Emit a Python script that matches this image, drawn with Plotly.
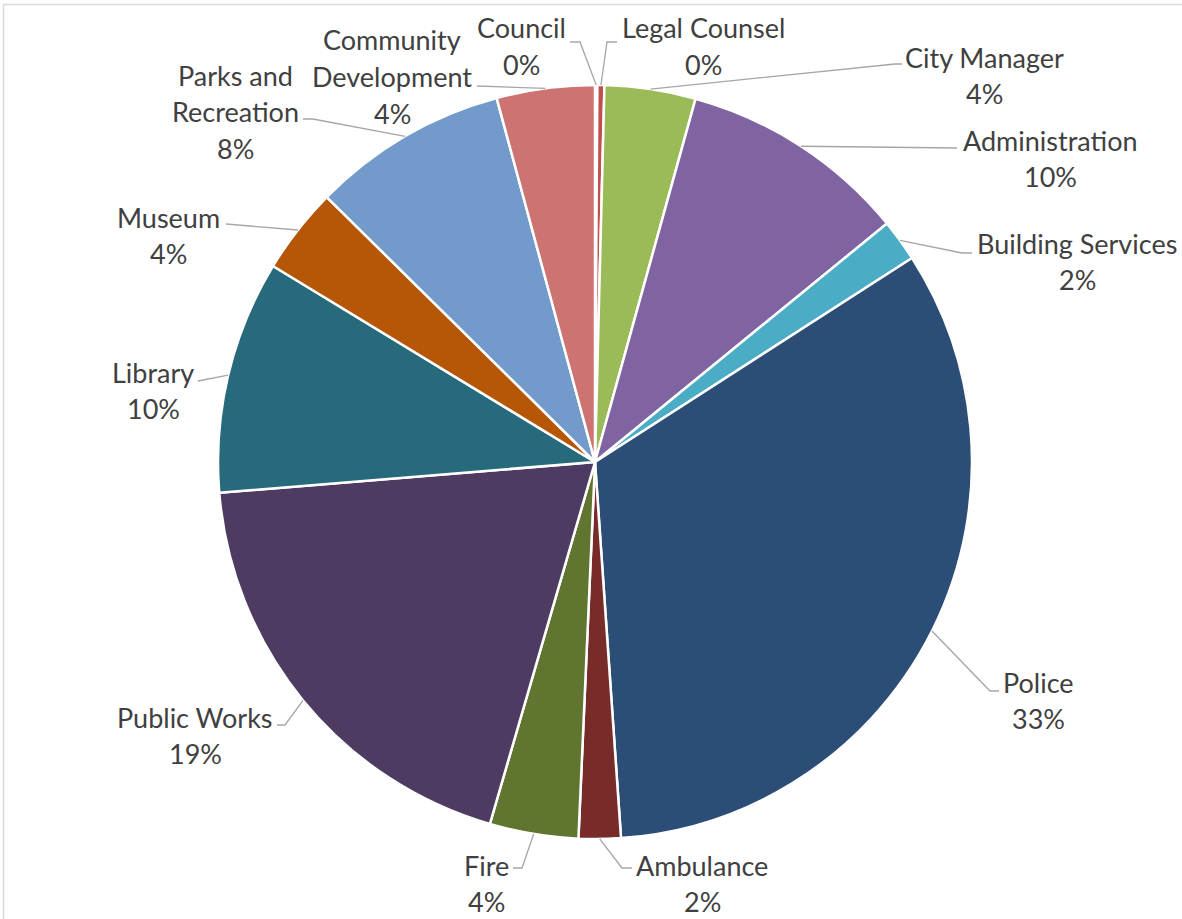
import math
import plotly.graph_objects as go

# ---- data ----
departments = ["Council", "Legal Counsel", "City Manager", "Administration",
               "Building Services", "Police", "Ambulance", "Fire", "Public Works",
               "Library", "Museum", "Parks and Recreation", "Community Development"]
shares = [0.1, 0.3, 3.9, 9.8, 1.8, 33.0, 1.8, 3.8, 19.2, 10.0, 3.7, 8.4, 4.2]
label_lines = [["Council"], ["Legal Counsel"], ["City Manager"], ["Administration"],
               ["Building Services"], ["Police"], ["Ambulance"], ["Fire"], ["Public Works"],
               ["Library"], ["Museum"], ["Parks and", "Recreation"], ["Community", "Development"]]
colors = ["#4F81BD", "#C0504D", "#9BBB59", "#8064A2", "#4BACC6", "#2C4D75", "#772C2A",
          "#5F7530", "#4D3B62", "#276A7C", "#B65708", "#729ACA", "#CD7371"]

# ---- layout (pixels) ----
W, H = 1182, 919
CX, CY, R = 595, 462, 377
LINE_GAP = 36.5
# label block: centre x, first line y
label_pos = [(521, 28), (703, 28), (984, 57), (1050, 140), (1077, 243), (1038, 682),
             (702, 865), (486, 865), (195, 717), (153, 372), (168, 217), (235, 75), (392, 40)]
# leader line: elbow point, end point
leaders = [((580, 42), (570, 42)), ((607, 42), (617, 42)), ((895, 64), (902, 64)),
           ((957, 148), (957, 148)), ((962, 253), (972, 253)), ((990, 691), (999, 691)),
           ((622, 868), (632, 868)), ((522, 868), (513, 868)), ((285, 725), (277, 725)),
           ((198, 381), (198, 381)), ((226, 224), (226, 224)), ((313, 119), (303, 119)),
           ((477, 86), (477, 86))]


def px(x):
    return x / W


def py(y):
    return 1 - y / H


fig = go.Figure(go.Pie(
    labels=departments, values=shares, sort=False, direction="clockwise", rotation=0,
    marker=dict(colors=colors, line=dict(color="white", width=2.5)),
    textinfo="none", hoverinfo="label+percent", showlegend=False,
    domain=dict(x=[px(CX - R), px(CX + R)], y=[py(CY + R), py(CY - R)]),
))

total = sum(shares)
annotations = []
shapes = []
cum = 0.0
for i, v in enumerate(shares):
    mid = (cum + v / 2) / total * 2 * math.pi
    cum += v
    sx = CX + R * math.sin(mid)
    sy = CY - R * math.cos(mid)
    (ex, ey), (fx, fy) = leaders[i]
    path = f"M {px(sx)} {py(sy)} L {px(ex)} {py(ey)} L {px(fx)} {py(fy)}"
    shapes.append(dict(type="path", xref="paper", yref="paper", path=path,
                       line=dict(color="#A6A6A6", width=1.3)))
    pct = f"{round(v / total * 100):.0f}%"
    lines = label_lines[i] + [pct]
    lx, ly = label_pos[i]
    for k, t in enumerate(lines):
        annotations.append(dict(x=px(lx), y=py(ly + k * LINE_GAP), xref="paper", yref="paper",
                                text=t, showarrow=False, xanchor="center", yanchor="middle",
                                font=dict(family="Lato", size=27, color="#404040")))

# chart area border
shapes.append(dict(type="line", xref="paper", yref="paper", x0=px(3), x1=px(W + 5),
                   y0=py(4.5), y1=py(4.5), line=dict(color="#D9D9D9", width=1.5)))
shapes.append(dict(type="line", xref="paper", yref="paper", x0=px(3.5), x1=px(3.5),
                   y0=py(4), y1=py(H + 5), line=dict(color="#D9D9D9", width=1.5)))

fig.update_layout(width=W, height=H, margin=dict(l=0, r=0, t=0, b=0),
                  paper_bgcolor="white", plot_bgcolor="white",
                  annotations=annotations, shapes=shapes)

fig.write_html("out.html")
